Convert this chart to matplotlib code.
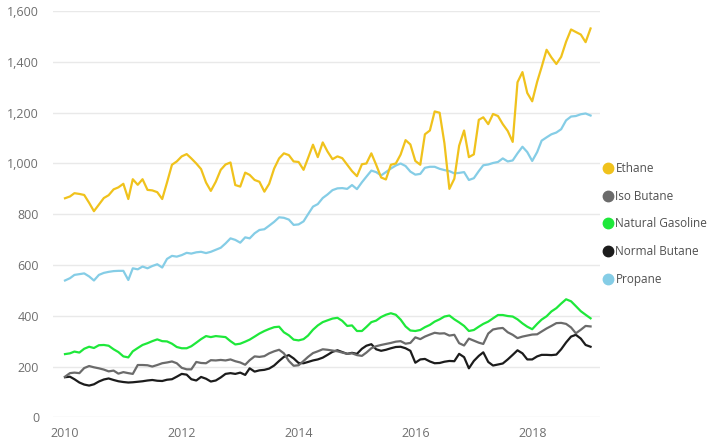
import numpy as np
import pandas as pd
import matplotlib
matplotlib.use("Agg")
import matplotlib.pyplot as plt
import matplotlib.dates as mdates
from matplotlib.lines import Line2D

# =========================================================
# DATA (monthly, Jan 2010 - Jan 2019, thousand barrels/day)
# =========================================================
months = pd.date_range("2010-01-01", "2019-01-01", freq="MS")

ethane = [
    863, 870, 883, 880, 876, 845, 812, 838, 864, 875, 898, 906, 920, 860, 938, 916,
    938, 896, 894, 887, 860, 925, 995, 1008, 1028, 1037, 1020, 1000, 978, 925, 892, 928,
    975, 996, 1004, 915, 909, 964, 955, 935, 928, 889, 920, 980, 1020, 1040, 1033, 1008,
    1006, 975, 1021, 1074, 1025, 1083, 1047, 1017, 1028, 1021, 995, 970, 950, 997, 1000, 1040,
    995, 945, 937, 995, 1000, 1035, 1092, 1075, 1010, 995, 1115, 1130, 1205, 1200, 1080, 900,
    940, 1070, 1130, 1025, 1036, 1172, 1182, 1155, 1195, 1187, 1155, 1128, 1085, 1320, 1360, 1278,
    1245, 1322, 1380, 1448, 1418, 1392, 1420, 1480, 1528, 1518, 1508, 1478, 1532,
]

propane = [
    539, 548, 561, 564, 567, 555, 539, 561, 569, 573, 576, 577, 577, 541, 587, 583,
    594, 587, 596, 603, 590, 624, 636, 633, 639, 648, 645, 650, 652, 647, 652, 660,
    668, 685, 705, 699, 688, 709, 705, 725, 738, 741, 755, 770, 788, 786, 779, 758,
    760, 772, 800, 830, 840, 864, 878, 895, 902, 903, 900, 915, 899, 926, 948, 972,
    966, 953, 966, 980, 992, 1000, 990, 968, 956, 959, 983, 987, 987, 979, 974, 970,
    961, 963, 966, 935, 942, 970, 993, 996, 1002, 1006, 1020, 1008, 1012, 1040, 1066, 1045,
    1010, 1045, 1090, 1103, 1115, 1122, 1135, 1170, 1185, 1187, 1194, 1197, 1189,
]

natural_gasoline = [
    249, 252, 259, 255, 270, 278, 273, 284, 285, 282, 268, 257, 240, 236, 260, 273,
    285, 292, 300, 307, 300, 299, 290, 277, 272, 272, 280, 294, 308, 320, 316, 320,
    318, 316, 300, 287, 290, 298, 306, 318, 330, 340, 348, 355, 357, 335, 323, 306,
    303, 308, 322, 345, 362, 375, 382, 389, 392, 380, 360, 362, 340, 340, 356, 375,
    381, 395, 404, 410, 404, 385, 358, 342, 340, 344, 355, 364, 377, 386, 397, 401,
    386, 374, 360, 340, 344, 357, 368, 377, 390, 403, 403, 399, 397, 386, 370, 357,
    347, 368, 385, 398, 417, 430, 448, 465, 457, 438, 418, 404, 390,
]

iso_butane = [
    160, 174, 176, 174, 194, 202, 197, 193, 188, 181, 184, 172, 178, 174, 171, 206,
    206, 205, 200, 206, 213, 216, 220, 213, 195, 189, 189, 218, 214, 213, 225, 224,
    226, 224, 228, 221, 216, 207, 225, 240, 238, 241, 252, 260, 266, 252, 222, 203,
    205, 222, 238, 253, 260, 268, 266, 263, 260, 255, 250, 252, 245, 242, 255, 272,
    280, 285, 289, 293, 298, 300, 290, 293, 315, 308, 318, 326, 333, 330, 331, 322,
    325, 292, 283, 310, 302, 294, 289, 330, 346, 350, 352, 335, 325, 312, 318, 322,
    326, 327, 338, 350, 360, 371, 372, 368, 354, 331, 345, 360, 358,
]

normal_butane = [
    158, 160, 150, 137, 129, 125, 130, 141, 149, 153, 147, 142, 139, 137, 138, 140,
    142, 145, 147, 144, 143, 148, 150, 160, 171, 168, 150, 145, 159, 152, 141, 145,
    157, 171, 174, 171, 176, 167, 193, 180, 185, 187, 192, 204, 222, 238, 245, 232,
    214, 213, 218, 224, 228, 235, 246, 258, 264, 257, 250, 254, 250, 270, 282, 288,
    268, 262, 266, 272, 277, 278, 272, 262, 215, 228, 230, 220, 213, 214, 219, 222,
    221, 250, 237, 193, 222, 242, 256, 218, 204, 208, 212, 228, 246, 264, 252, 228,
    228, 240, 246, 246, 245, 247, 268, 295, 318, 325, 310, 285, 278,
]

series_names = ["Ethane", "Iso Butane", "Natural Gasoline", "Normal Butane", "Propane"]
series_values = [ethane, iso_butane, natural_gasoline, normal_butane, propane]
series_colors = ["#F0C21C", "#6B6B6B", "#1EE83A", "#1C1C1C", "#85CDE6"]

y_ticks = [0, 200, 400, 600, 800, 1000, 1200, 1400, 1600]

# =========================================================
# PLOT
# =========================================================
plt.rcParams["font.family"] = ["Open Sans", "DejaVu Sans"]

fig = plt.figure(figsize=(7.14, 4.40), dpi=100)
ax = fig.add_axes([53 / 714, 1 - 417.3 / 440, (600 - 53) / 714, (417.3 - 11.2) / 440])

# draw order: lower lines first, ethane/propane on top
for idx in [3, 1, 2, 4, 0]:
    ax.plot(months, series_values[idx], color=series_colors[idx], linewidth=1.6,
            solid_joinstyle="round", zorder=3)

ax.set_ylim(0, 1600)
ax.set_yticks(y_ticks)
ax.set_yticklabels([f"{v:,}" for v in y_ticks])

x0 = pd.Timestamp("2010-01-01") - pd.Timedelta(days=75)
x1 = pd.Timestamp("2019-03-01")
ax.set_xlim(x0, x1)
ax.xaxis.set_major_locator(mdates.YearLocator(2))
ax.xaxis.set_major_formatter(mdates.DateFormatter("%Y"))

ax.grid(True, axis="y", color="#e9e9e9", linewidth=1.0, zorder=0)
ax.grid(False, axis="x")
for s in ax.spines.values():
    s.set_visible(False)
ax.tick_params(axis="both", length=0, labelsize=9, labelcolor="#6f6f6f")
ax.tick_params(axis="y", pad=10)
ax.tick_params(axis="x", pad=7)

handles = [
    Line2D([], [], linestyle="none", marker="o", markersize=7.5,
           markerfacecolor=c, markeredgecolor=c)
    for c in series_colors
]
leg = fig.legend(handles, series_names, loc="center left",
                 bbox_to_anchor=(603 / 714, 1 - 224 / 440),
                 frameon=False, fontsize=8.5, handlelength=0.8, handletextpad=0.25,
                 labelspacing=1.25, borderpad=0, borderaxespad=0)
for t in leg.get_texts():
    t.set_color("#505050")

fig.savefig("out.png", dpi=100)
